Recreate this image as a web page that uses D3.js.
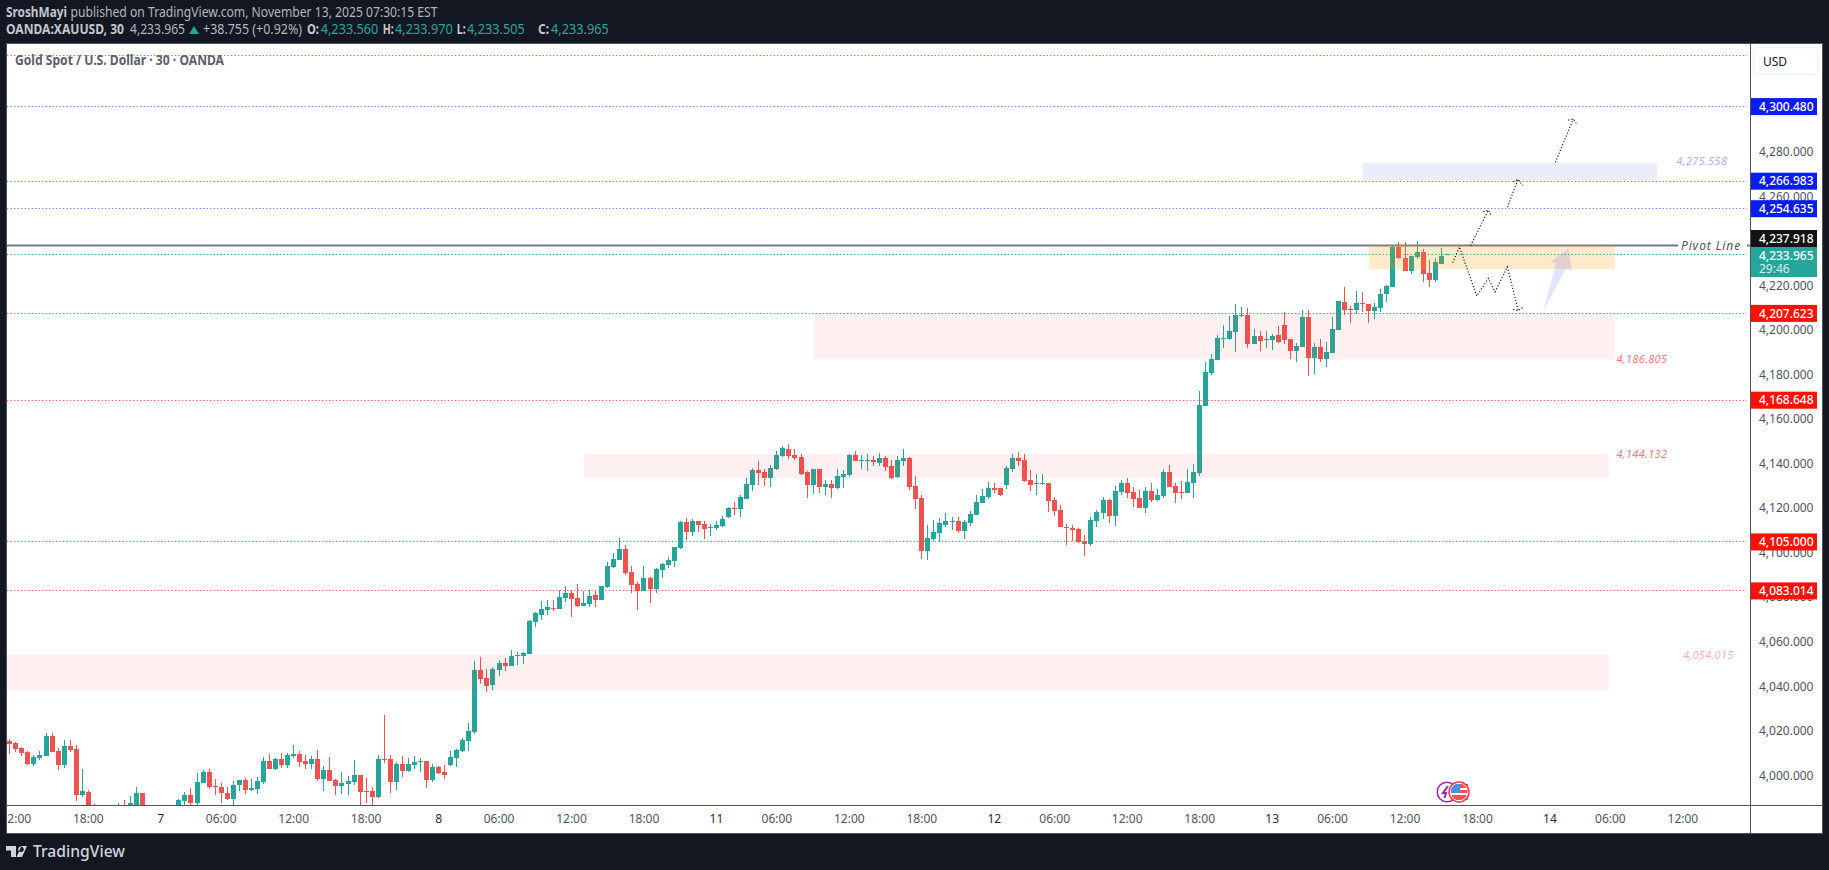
<!DOCTYPE html>
<html>
<head>
<meta charset="UTF-8">
<title>Gold Spot / U.S. Dollar</title>
<script src="https://d3js.org/d3.v7.min.js"></script>
<style>
  html,body{margin:0;padding:0;background:#131722;overflow:hidden}
  svg{display:block}
  text{font-family:"Noto Sans",sans-serif}
</style>
</head>
<body>
<svg id="chart" width="1829" height="870"></svg>
<script>
// candles (30 min bars, oldest first)
var opens = [
4015.3,4014.4,4012.3,4010.4,4005.0,4007.7,4008.6,4017.6,4010.8,4004.6,
4013.1,4011.7,3991.1,3992.4,3984,3981,3978,3981,3983,3985.5,
3983,3984,3992.0,3984,3979,3977,3980,3982,3984,3988.4,
3991.1,3987.5,3996.5,4001.4,3995.3,3994.7,3992.0,3989.3,3995.6,3997.8,
3993.3,3993.8,3996.9,4006.4,4002.8,4007.3,4004.6,4008.6,4009.5,4006.4,
4005.0,4007.3,3998.3,4002.3,3997.8,3995.1,3996.0,3996.9,4000.1,3993.0,
3992.9,3990.2,4007.5,4007.3,3996.9,4005.0,4001.9,4004.6,4006.2,4006.4,
3997.8,4003.7,4001.4,4004.6,4007.7,4010.8,4015.3,4019.4,4047.2,4043.6,
4040.5,4047.2,4050.4,4049.0,4053.7,4053.5,4054.4,4068.8,4071.9,4074.2,
4075.1,4074.6,4079.6,4081.8,4079.6,4076.0,4076.9,4080.9,4078.7,4084.5,
4093.5,4096.6,4101.6,4091.2,4085.8,4082.7,4088.5,4083.6,4092.1,4094.4,
4096.2,4102.1,4113.7,4109.2,4114.2,4112.8,4111.2,4111.0,4111.9,4115.9,
4120.0,4119.5,4124.0,4130.3,4137.0,4136.1,4133.5,4137.5,4143.3,4146.5,
4143.8,4142.9,4136.1,4130.3,4137.5,4129.4,4130.8,4129.0,4133.9,4134.8,
4143.8,4141.2,4141.2,4141.5,4140.2,4142.4,4138.8,4133.9,4141.1,4142.4,
4129.9,4124.5,4100.7,4106.1,4108.8,4112.3,4113.9,4114.1,4109.6,4113.2,
4116.8,4122.2,4124.9,4129.0,4129.0,4130.3,4137.5,4142.4,4141.5,4132.6,
4131.0,4131.0,4131.2,4123.6,4119.1,4111.5,4111.0,4110.5,4105.2,4103.8,
4114.1,4117.7,4123.6,4116.4,4127.2,4131.2,4127.2,4124.5,4120.0,4127.6,
4123.6,4125.4,4136.1,4129.9,4127.2,4126.7,4131.2,4135.7,4165.8,4180.6,
4186.4,4196.1,4195.8,4199.0,4206.2,4206.6,4193.6,4197.2,4195.4,4195.4,
4197.6,4202.1,4195.8,4190.5,4192.3,4205.7,4187.3,4192.3,4186.9,4189.6,
4199.9,4212.5,4209.3,4208.9,4212.1,4211.6,4208.4,4209.8,4216.1,4219.2,
4237.2,4232.2,4226.4,4232.7,4234.9,4225.5,4222.3,4229.5,4233.56];
var highs = [
4016.2,4014.9,4012.6,4010.7,4009.1,4010.8,4018.9,4018.9,4012.2,4015.8,
4015.8,4013.5,4002.8,3993.3,3987,3984,3983,3985,3987.5,3988.8,
3990.6,3994.7,3992.0,3985,3983,3982,3985,3985,3989.3,3992.4,
3994.2,4001.0,4002.3,4002.8,3998.3,3996.5,3994.7,3997.4,3997.8,3998.7,
3998.3,3999.2,4008.2,4009.5,4007.7,4010.0,4010.0,4013.5,4010.8,4009.1,
4008.6,4011.3,4004.1,4008.2,3998.3,4001.4,3999.6,4006.8,4000.1,3998.7,
3994.7,4009.1,4027.0,4009.1,4005.9,4008.6,4007.7,4008.6,4007.7,4006.5,
4005.0,4004.1,4004.6,4010.8,4011.7,4016.7,4023.4,4051.3,4053.1,4047.7,
4048.6,4051.7,4052.6,4056.2,4055.3,4055.3,4069.7,4073.3,4078.2,4078.7,
4078.7,4083.1,4084.9,4083.1,4085.8,4082.7,4083.1,4082.7,4084.9,4095.7,
4099.8,4106.5,4103.4,4093.9,4086.7,4093.9,4089.0,4093.0,4095.3,4098.0,
4102.5,4114.2,4115.5,4115.1,4114.2,4114.2,4112.8,4114.2,4116.4,4120.4,
4122.7,4125.8,4133.5,4137.9,4141.1,4137.5,4139.3,4145.6,4147.8,4148.7,
4146.5,4144.2,4136.6,4137.5,4137.5,4132.6,4132.6,4137.5,4137.0,4144.2,
4145.6,4143.8,4144.2,4143.3,4144.7,4143.3,4141.5,4143.3,4146.5,4142.9,
4134.4,4125.8,4112.3,4114.6,4115.5,4117.7,4115.9,4115.9,4114.6,4118.6,
4125.8,4128.5,4131.7,4131.2,4129.0,4138.8,4144.2,4145.1,4144.2,4137.0,
4135.2,4135.2,4131.2,4124.9,4121.3,4112.8,4112.3,4111.0,4107.9,4115.9,
4119.1,4124.9,4124.0,4129.9,4132.6,4133.5,4129.4,4128.1,4129.4,4131.2,
4128.5,4137.5,4139.3,4131.2,4132.1,4137.5,4139.7,4172.5,4185.5,4189.1,
4197.6,4202.1,4206.2,4211.6,4210.2,4209.8,4200.3,4199.4,4199.4,4198.1,
4201.7,4208.0,4195.8,4194.1,4208.9,4208.9,4194.1,4195.8,4194.5,4205.7,
4212.9,4219.2,4210.7,4217.4,4217.0,4211.6,4212.0,4218.3,4220.1,4238.1,
4239.4,4239.4,4233.1,4239.9,4236.3,4231.3,4232.2,4236.7,4233.97];
var lows = [
4009.5,4010.6,4008.8,4004.6,4004.3,4006.8,4008.6,4010.4,4002.3,4003.2,
4010.4,3988.4,3990.2,3981,3979,3976,3976,3978,3981,3981,
3981,3982,3980,3977,3975,3974,3978,3980,3982,3986.6,
3986.6,3986.6,3996.5,3993.8,3991.1,3987.5,3988.8,3986.6,3992.9,3991.5,
3992.9,3991.5,3996.0,4002.8,4002.3,4003.2,4003.2,4007.7,4003.7,4002.8,
4002.8,3997.4,3992.9,3997.4,3991.1,3991.5,3991.1,3995.6,3986.6,3987.5,
3986.6,3989.8,4005.5,3992.0,3993.3,3999.2,4001.4,4002.8,4001.4,3994.2,
3996.9,4000.5,3998.3,4004.1,4003.7,4010.4,4010.8,4018.5,4040.9,4037.3,
4038.2,4044.5,4046.8,4049.0,4049.5,4049.9,4054.4,4066.5,4069.7,4071.9,
4073.7,4074.6,4077.8,4071.0,4075.5,4076.0,4075.5,4075.5,4078.7,4084.0,
4093.0,4096.6,4089.9,4081.8,4074.2,4082.7,4077.3,4081.8,4088.5,4093.0,
4093.5,4101.6,4105.7,4107.5,4109.2,4106.1,4107.5,4110.2,4111.4,4115.5,
4116.8,4115.9,4124.0,4127.6,4130.3,4129.9,4129.4,4137.0,4142.9,4142.0,
4141.5,4134.8,4124.5,4126.3,4126.7,4125.8,4124.5,4128.5,4129.0,4133.9,
4141.1,4137.5,4136.6,4138.8,4138.8,4136.6,4133.0,4133.5,4138.8,4128.1,
4119.5,4097.1,4096.6,4105.2,4104.7,4111.4,4110.1,4108.8,4106.1,4111.9,
4116.8,4122.2,4124.0,4126.7,4125.4,4128.5,4136.1,4138.8,4131.7,4127.6,
4125.8,4130.3,4118.2,4116.4,4111.4,4103.4,4105.2,4104.3,4098.4,4102.9,
4111.4,4115.0,4113.2,4111.9,4125.8,4124.5,4120.4,4120.0,4117.7,4122.7,
4123.1,4124.5,4129.4,4122.2,4124.0,4126.7,4124.5,4134.3,4165.8,4179.7,
4186.4,4191.8,4195.4,4190.0,4205.7,4191.8,4193.6,4190.5,4191.8,4190.9,
4194.1,4193.6,4186.9,4185.5,4192.3,4179.2,4180.1,4185.5,4183.3,4189.6,
4199.9,4206.6,4203.0,4207.1,4208.0,4203.0,4204.8,4208.0,4212.5,4219.2,
4231.8,4226.4,4225.0,4231.8,4221.4,4219.2,4221.4,4229.5,4233.505];
var closes = [
4014.0,4011.7,4010.0,4005.0,4008.2,4009.1,4017.6,4010.4,4004.6,4013.1,
4011.3,3991.1,3992.9,3984,3981,3978,3981,3983,3985,3983,
3987.5,3992.0,3984,3979,3977,3980,3983,3984,3988.8,3991.1,
3987.5,3996.9,4001.4,3994.7,3995.0,3992.0,3989.3,3995.6,3997.8,3993.3,
3994.2,3997.4,4006.4,4002.8,4007.3,4004.6,4009.1,4009.5,4005.9,4005.0,
4007.3,3998.3,4002.3,3997.4,3995.1,3996.5,3997.4,4000.1,3992.4,3992.8,
3990.2,4007.3,4007.1,3996.9,4005.0,4001.9,4005.0,4005.9,4006.5,3997.8,
4003.7,4001.0,4000.1,4008.2,4011.3,4015.8,4019.8,4047.2,4043.2,4040.0,
4047.7,4050.4,4049.0,4053.5,4053.9,4054.9,4069.2,4072.8,4074.6,4075.5,
4074.9,4080.0,4081.8,4079.1,4076.0,4077.3,4080.5,4078.7,4084.9,4093.9,
4097.1,4101.6,4090.8,4085.4,4082.7,4088.5,4083.6,4092.6,4094.8,4096.6,
4102.5,4113.7,4109.2,4114.2,4112.4,4110.6,4111.4,4112.4,4115.0,4120.0,
4119.8,4124.9,4130.8,4137.0,4135.7,4133.5,4137.9,4143.8,4146.9,4143.3,
4142.4,4135.2,4130.3,4137.5,4129.4,4130.8,4129.0,4134.4,4135.2,4143.8,
4141.1,4141.5,4141.5,4140.6,4142.4,4138.4,4133.5,4141.5,4142.4,4129.4,
4124.0,4100.7,4106.5,4109.2,4113.2,4114.1,4114.2,4109.6,4113.7,4117.3,
4122.7,4125.4,4129.0,4128.1,4125.8,4137.9,4142.4,4141.1,4132.1,4130.3,
4131.2,4131.2,4123.1,4118.6,4111.4,4111.1,4110.1,4104.7,4103.8,4114.6,
4118.2,4123.6,4116.4,4127.6,4131.2,4126.7,4124.0,4120.0,4127.6,4123.6,
4125.8,4136.1,4129.4,4126.7,4127.0,4131.7,4136.1,4166.2,4181.0,4186.9,
4196.3,4196.4,4199.4,4206.6,4206.5,4193.6,4197.2,4194.9,4195.7,4197.2,
4194.5,4195.4,4190.5,4192.7,4205.7,4187.3,4192.3,4186.9,4190.0,4200.3,
4212.9,4208.9,4209.0,4212.0,4211.8,4208.4,4210.2,4216.1,4219.7,4237.2,
4232.2,4226.4,4233.1,4234.9,4225.0,4222.3,4230.4,4233.2,4233.965];

// time axis: bar number of each label
var timeBars   = [1,13,25,35,47,59,71,81,93,105,117,127,139,151,163,173,185,197,209,219,231,243,255,265,277];
var timeLabels = ["12:00","18:00","7","06:00","12:00","18:00","8","06:00","12:00","18:00","11","06:00","12:00","18:00","12","06:00","12:00","18:00","13","06:00","12:00","18:00","14","06:00","12:00"];
var priceTicks = d3.range(4000, 4281, 20);

// horizontal levels
var blueLevels = [4323.3,4300.48,4266.983,4254.635];
var redLevels  = [4207.623,4168.648,4105,4083.014];
var pivotLevel = 4237.918;
var lastPrice  = 4233.965;

// zones: first bar, last bar, top price, bottom price
var pinkZones = [[133.2,265.8,4207.6,4186.8],[95.2,264.8,4144.13,4133.6],[-3,264.8,4054.02,4038.3]];
var orangeZone = [225.1,265.8,4237.9,4227.3];
var blueZone   = [224.1,272.8,4275.0,4267.0];
// zone captions: bar, price, text
var zoneNotes = [[280.2,4275.558,"4,275.558","#aab2f4"],[270.3,4186.805,"4,186.805","#f77c80"],[270.3,4144.132,"4,144.132","#f77c80"],[281.3,4054.015,"4,054.015","#fbb4b6"]];

// drawn forecast, [bar, price]
var zigzag = [[238.97,4230.1],[240.08,4237.3],[242.95,4215.2],[244.88,4223.1],[245.98,4217.1],[248.02,4228.3],[249.84,4208.6]];
var zigzagHead = [[249.0,4209.2],[249.84,4208.6],[250.56,4210.1]];
var upLegs = [
  [[241.95,4237.8],[244.88,4253.8]],
  [[248.02,4255.0],[249.79,4267.6]],
  [[255.97,4275.2],[258.95,4294.7]]];
var upHeads = [
  [[244.05,4253.0],[244.88,4253.8],[245.43,4251.1]],
  [[249.02,4266.5],[249.79,4267.6],[250.56,4264.9]],
  [[258.12,4294.2],[258.95,4294.7],[259.5,4292.4]]];
var bigArrow = [[253.98,4208.6],[256.08,4229.8],[255.2,4230.6],[258.12,4236.6],[258.67,4226.6],[257.74,4227.6]];

var svg = d3.select("#chart");
var paneL = 7, paneR = 1750, paneT = 44, paneB = 805, frameR = 1822, frameB = 833;
var green = "#26a69a", red = "#ef5350", line = "#50535e";

var x = d3.scaleLinear().domain([0,238]).range([9.3,1446.8]);
var y = d3.scaleLinear().domain([4000,4280]).range([775.3,151.7]);

// white frame
svg.append("rect").attr("x",paneL-0.5).attr("y",paneT-0.5).attr("width",frameR-paneL+1).attr("height",frameB-paneT+1)
  .attr("fill","#fff").attr("stroke",line).attr("stroke-width",1);

svg.append("clipPath").attr("id","pane").append("rect")
  .attr("x",paneL).attr("y",paneT).attr("width",paneR-paneL).attr("height",paneB-paneT);
svg.append("clipPath").attr("id","timeclip").append("rect")
  .attr("x",paneL).attr("y",paneB).attr("width",paneR-paneL).attr("height",frameB-paneB);

var pane = svg.append("g").attr("clip-path","url(#pane)");

// dotted levels
function level(list, color) {
  pane.selectAll(null).data(list).enter().append("line")
    .attr("x1",paneL).attr("x2",paneR-3)
    .attr("y1",function(d){return Math.round(y(d))+0.5;}).attr("y2",function(d){return Math.round(y(d))+0.5;})
    .attr("stroke",color).attr("stroke-width",1).attr("stroke-dasharray","1.4 2.1");
}
level(blueLevels,"#7d84ee");
level(redLevels,"#f26a6f");
level([lastPrice],"#26a69a");

// pivot line
pane.append("line").attr("x1",paneL).attr("x2",paneR)
  .attr("y1",y(pivotLevel)).attr("y2",y(pivotLevel))
  .attr("stroke","#787b86").attr("stroke-width",2);

// candles
var bars = d3.range(opens.length);
var candles = pane.append("g").attr("shape-rendering","crispEdges");
candles.selectAll("line").data(bars).enter().append("line")
  .attr("x1",function(i){return Math.round(x(i))+0.5;}).attr("x2",function(i){return Math.round(x(i))+0.5;})
  .attr("y1",function(i){return y(highs[i]);}).attr("y2",function(i){return y(lows[i]);})
  .attr("stroke",function(i){return closes[i]>=opens[i]?green:red;});
candles.selectAll("rect").data(bars).enter().append("rect")
  .attr("x",function(i){return Math.round(x(i))-2;}).attr("width",5)
  .attr("y",function(i){return y(Math.max(opens[i],closes[i]));})
  .attr("height",function(i){return Math.max(1,Math.abs(y(opens[i])-y(closes[i])));})
  .attr("fill",function(i){return closes[i]>=opens[i]?green:red;});

// zones sit on top of the candles
function zone(z, color) {
  pane.append("rect").attr("x",x(z[0])).attr("width",x(z[1])-x(z[0]))
    .attr("y",y(z[2])).attr("height",y(z[3])-y(z[2])).attr("fill",color);
}
pinkZones.forEach(function(z){zone(z,"rgba(242,54,69,0.08)");});
zone(orangeZone,"rgba(255,152,0,0.2)");
zone(blueZone,"rgba(63,81,230,0.1)");

// zone captions
pane.selectAll(null).data(zoneNotes).enter().append("text")
  .attr("x",function(d){return x(d[0]);}).attr("y",function(d){return y(d[1]);})
  .attr("dy","0.35em").attr("text-anchor","middle")
  .attr("font-size",11).attr("font-style","italic").attr("letter-spacing",0.3)
  .attr("fill",function(d){return d[3];}).text(function(d){return d[2];});

// pivot caption
var pivotBg = pane.append("rect").attr("fill","#fff");
var pivotText = pane.append("text").attr("x",1711).attr("y",y(pivotLevel)).attr("dy","0.35em")
  .attr("text-anchor","middle").attr("font-size",12).attr("font-style","italic").attr("letter-spacing",0.9)
  .attr("fill","#50535e").text("Pivot Line");
var pb = pivotText.node().getBBox();
pivotBg.attr("x",1678).attr("y",pb.y).attr("width",69).attr("height",pb.height);

// forecast drawing
var path = d3.line().x(function(d){return x(d[0]);}).y(function(d){return y(d[1]);});
var dotted = [zigzag,zigzagHead].concat(upLegs).concat(upHeads);
pane.selectAll(null).data(dotted).enter().append("path").attr("d",path)
  .attr("fill","none").attr("stroke","#1e1f25").attr("stroke-width",1.2).attr("stroke-dasharray","1.2 1.9");
pane.append("path").attr("d",path(bigArrow)+"Z").attr("fill","rgba(70,90,235,0.16)");

// event icons
var ev = svg.append("g");
ev.append("circle").attr("cx",1447).attr("cy",792).attr("r",9.8).attr("fill","#fff").attr("stroke","#9c27b0").attr("stroke-width",1.5);
ev.append("path").attr("d","M1448 786l-5 7h3l-1.5 5").attr("fill","none").attr("stroke","#9c27b0").attr("stroke-width",2);
ev.append("rect").attr("x",1451).attr("y",784).attr("width",17).attr("height",16).attr("fill","#ef5350");
ev.append("rect").attr("x",1451).attr("y",788).attr("width",17).attr("height",2).attr("fill","#fff");
ev.append("rect").attr("x",1451).attr("y",793).attr("width",17).attr("height",2).attr("fill","#fff");
ev.append("rect").attr("x",1451).attr("y",784).attr("width",9).attr("height",9).attr("fill","#4a90e2");
ev.append("circle").attr("cx",1459).attr("cy",792).attr("r",9.2).attr("fill","none").attr("stroke","#fff").attr("stroke-width",1.5);
ev.append("circle").attr("cx",1459).attr("cy",792).attr("r",10).attr("fill","none").attr("stroke","#f23645").attr("stroke-width",1.5);

// axes
var priceAxis = d3.axisRight(y).tickValues(priceTicks).tickSize(0).tickPadding(9).tickFormat(d3.format(",.3f"));
var gp = svg.append("g").attr("transform","translate("+paneR+",0)").call(priceAxis);
gp.select(".domain").remove();
gp.selectAll("text").attr("font-size",12).attr("font-family","Noto Sans").attr("fill","#50535e");

var timeAxis = d3.axisBottom(x).tickValues(timeBars).tickSize(0).tickPadding(0)
  .tickFormat(function(b){return timeLabels[timeBars.indexOf(b)];});
var gt = svg.append("g").attr("clip-path","url(#timeclip)").append("g").attr("transform","translate(0,"+paneB+")").call(timeAxis);
gt.select(".domain").remove();
gt.selectAll("text").attr("font-size",12).attr("font-family","Noto Sans").attr("y",9)
  .attr("fill",function(b){return timeLabels[timeBars.indexOf(b)].length<3?"#2a2e39":"#50535e";});

svg.append("line").attr("x1",paneR+0.5).attr("x2",paneR+0.5).attr("y1",paneT).attr("y2",frameB).attr("stroke",line);
svg.append("line").attr("x1",paneL).attr("x2",frameR).attr("y1",paneB+0.5).attr("y2",paneB+0.5).attr("stroke",line);

// USD box
svg.append("rect").attr("x",1754).attr("y",47.5).attr("width",64).attr("height",27).attr("rx",4)
  .attr("fill","#fff").attr("stroke","#f0f3fa").attr("stroke-width",1.5);
svg.append("text").attr("x",1763).attr("y",65.5).attr("font-size",12).attr("fill","#131722").text("USD");

// price badges, tv pushes the pivot label up so the last price fits under it
function badge(v, color, top, h) {
  svg.append("rect").attr("x",1751).attr("y",top).attr("width",66).attr("height",h).attr("fill",color);
  svg.append("text").attr("x",1759).attr("y",top+8.5).attr("dy","0.35em").attr("font-size",12).attr("font-weight",500)
    .attr("fill","#fff").text(d3.format(",.3f")(v));
}
blueLevels.slice(1).forEach(function(v){badge(v,"#0a1cf5",y(v)-8,17);});
redLevels.forEach(function(v){badge(v,"#ff1100",y(v)-8,17);});
badge(pivotLevel,"#131313",230,17);
badge(lastPrice,"#26a69a",247,30);
svg.append("text").attr("x",1759).attr("y",269).attr("dy","0.35em").attr("font-size",12)
  .attr("fill","#d6f0ed").text("29:46");

// chart title
svg.append("text").attr("x",15).attr("y",65).attr("font-family","Lato").attr("font-size",13.5).attr("font-weight",700).attr("fill","#5d606b")
  .attr("textLength",209).attr("lengthAdjust","spacingAndGlyphs")
  .text("Gold Spot / U.S. Dollar \u00b7 30 \u00b7 OANDA");

// header
var head = "#b2b5be", headBold = "#c3c6ce";
function hdr(tx, ty, s, len, color, weight) {
  svg.append("text").attr("x",tx).attr("y",ty).attr("font-family","Lato").attr("font-size",14).attr("font-weight",weight||400)
    .attr("fill",color).attr("textLength",len).attr("lengthAdjust","spacingAndGlyphs").text(s);
}
hdr(6,17,"SroshMayi",61,headBold,700);
hdr(70.5,17,"published on TradingView.com, November 13, 2025 07:30:15 EST",367,head);
hdr(6,34,"OANDA:XAUUSD, 30",118,headBold,700);
hdr(130,34,"4,233.965",55,head);
svg.append("path").attr("d","M189 34l5-8 5 8z").attr("fill",green);
hdr(203,34,"+38.755 (+0.92%)",99,head);
hdr(307,34,"O:",12,headBold,700); hdr(320.7,34,"4,233.560",57.7,green);
hdr(382.7,34,"H:",11,headBold,700); hdr(395,34,"4,233.970",57.7,green);
hdr(456.7,34,"L:",9,headBold,700); hdr(467,34,"4,233.505",57.7,green);
hdr(538,34,"C:",11,headBold,700); hdr(551,34,"4,233.965",57.7,green);

// footer logo
svg.append("path").attr("fill","#d1d4dc")
  .attr("d","M6 846h10v11h-5v-6.500h-5zM21 846.500a2.800 2.800 0 1 1-.01 0zM22 857l5-11h-5.500l-5 11z");
svg.append("text").attr("x",33).attr("y",857).attr("font-family","Inter").attr("font-size",15.5).attr("font-weight",500)
  .attr("fill","#d1d4dc").attr("textLength",92).attr("lengthAdjust","spacingAndGlyphs").text("TradingView");
</script>
</body>
</html>
